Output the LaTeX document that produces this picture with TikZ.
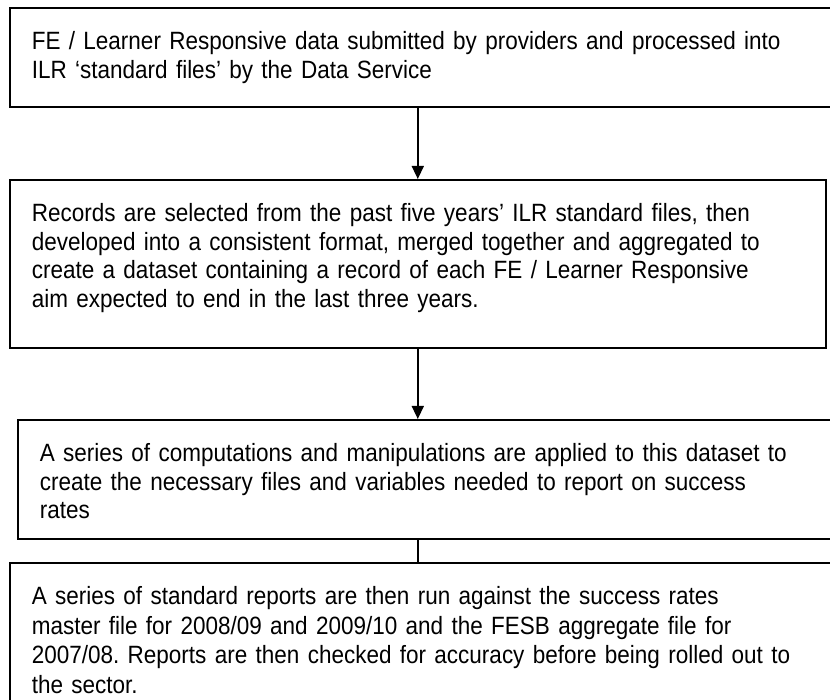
\documentclass[tikz,border=0pt]{standalone}
\usepackage{fontspec}
\setmainfont{Liberation Sans}[FakeStretch=0.9]
\usetikzlibrary{arrows.meta}
\frenchspacing
\tikzset{
  stage/.style={draw, line width=1.6pt, anchor=north west, align=left,
    inner xsep=22pt, inner ysep=0pt, text height=42pt,
    font=\fontsize{25}{28.5}\selectfont},
  flow/.style={line width=1.4pt, -{Triangle[length=13pt,width=12pt]}}
}
\begin{document}
\begin{tikzpicture}[x=1pt,y=-1pt]
\useasboundingbox (0,0) rectangle (830,700);
% Data submitted by providers
\node[stage, text width=792pt, text depth=57pt] (ilr) at (9,7)
  {FE / Learner Responsive data submitted by providers and processed into\\
   ILR ‘standard files’ by the Data Service};
% Records selected and merged
\node[stage, text width=772pt, text depth=126pt] (recs) at (9,179)
  {Records are selected from the past five years’ ILR standard files, then\\
   developed into a consistent format, merged together and aggregated to\\
   create a dataset containing a record of each FE / Learner Responsive\\
   aim expected to end in the last three years.};
% Computations
\node[stage, text width=784pt, text depth=77pt] (comp) at (17,419)
  {A series of computations and manipulations are applied to this dataset to\\
   create the necessary files and variables needed to report on success\\
   rates};
% Standard reports
\node[stage, text width=792pt, text depth=118pt,
      font=\fontsize{25}{29.5}\selectfont] (reps) at (9,562)
  {A series of standard reports are then run against the success rates\\
   master file for 2008/09 and 2009/10 and the FESB aggregate file for\\
   2007/08. Reports are then checked for accuracy before being rolled out to\\
   the sector.};
% Connectors
\draw[flow] (recs.north |- ilr.south) -- (recs.north);
\draw[flow] (recs.south) -- (recs.south |- comp.north);
\draw[line width=1.4pt] (recs.south |- comp.south) -- (recs.south |- reps.north);
\end{tikzpicture}
\end{document}
